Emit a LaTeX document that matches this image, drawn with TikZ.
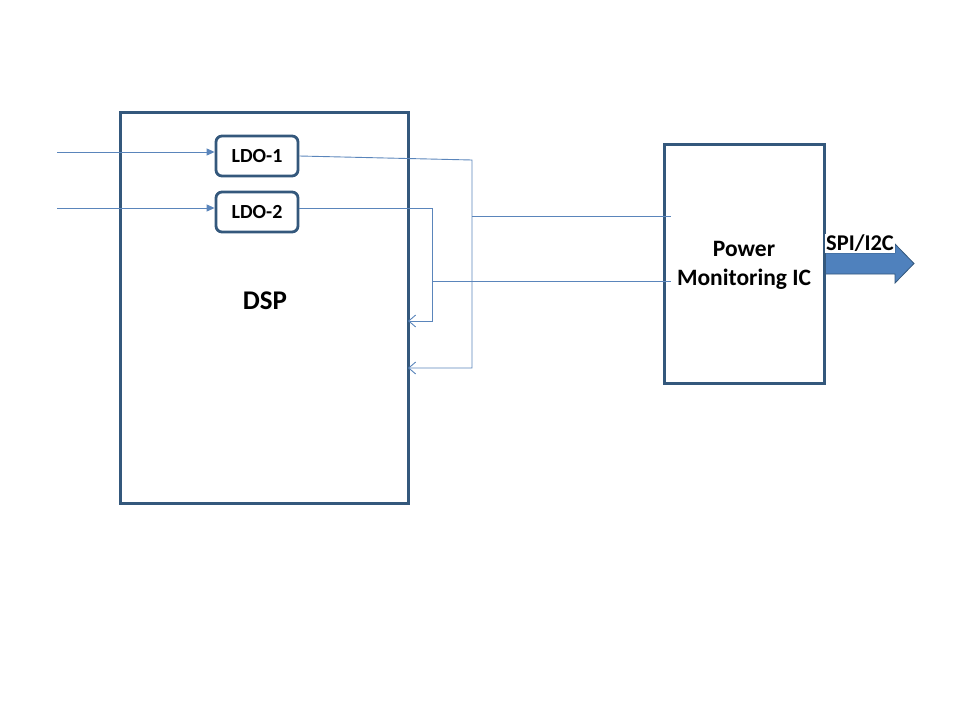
\documentclass[tikz,border=0pt]{standalone}
\usepackage{fontspec}
\setmainfont{Carlito}
\usetikzlibrary{arrows.meta}
\definecolor{boxc}{HTML}{34587C}
\definecolor{linec}{HTML}{5A85BB}
\definecolor{arrf}{HTML}{4F81BD}
\tikzset{
  bigbox/.style={draw=boxc, line width=3pt},
  ldobox/.style={draw=boxc, line width=2.8pt, rounded corners=6pt, font=\bfseries\fontsize{20}{24}\selectfont},
  wire/.style={draw=linec, line width=0.9pt},
  wirearrow/.style={wire, -{Straight Barb[length=7pt,width=12pt,line width=0.9pt]}},
  intip/.style={wire, -{Triangle[length=8pt,width=7pt]}},
  lbl/.style={font=\bfseries\fontsize{23}{28}\selectfont, align=center, inner sep=0pt},
}
\begin{document}
\begin{tikzpicture}[x=1pt,y=-1pt]
\useasboundingbox (0,0) rectangle (960,720);
% boxes
\draw[bigbox] (120,112) rectangle (408,503);
\node[lbl, font=\bfseries\fontsize{27}{30}\selectfont] (dsp) at (265,301) {DSP};
\coordinate (dspE) at (408,300);
\node[ldobox, minimum width=82pt, minimum height=40pt, inner sep=0pt] (ldo1) at (257,156) {LDO-1};
\node[ldobox, minimum width=82pt, minimum height=40pt, inner sep=0pt] (ldo2) at (257,212) {LDO-2};
\node[bigbox, minimum width=160pt, minimum height=239pt, inner sep=0pt] (ic) at (744,263.5) {};
\node[lbl, font=\bfseries\fontsize{23.5}{29}\selectfont] (ictext) at (744,265) {Power\\Monitoring IC};
% inputs
\coordinate (in1) at (57,152);
\coordinate (in2) at (57,208);
\draw[intip] (in1) -- (in1 -| ldo1.west);
\draw[intip] (in2) -- (in2 -| ldo2.west);
% LDO-1 feedback
\coordinate (b1) at (472,160);
\coordinate (b1d) at (472,368);
\draw[wirearrow] (ldo1.east) -- (b1) -- (b1d) -- (b1d -| dspE);
\coordinate (b2) at (432,208);
\coordinate (b2d) at (432,321);
\draw[wirearrow] (ldo2.east |- b2) -- (b2) -- (b2d) -- (b2d -| dspE);
% to IC
\coordinate (t1) at (472,216);
\coordinate (t2) at (432,281);
\draw[wire] (t1) -- ([xshift=8pt]t1 -| ic.west);
\draw[wire] (t2) -- ([xshift=8pt]t2 -| ic.west);
% output arrow
\draw[draw=boxc, fill=arrf, line width=0.8pt] (ic.east |- 0,253) -- (895,253) -- (895,244) -- (914,263.5) -- (895,283) -- (895,274) -- (ic.east |- 0,274) -- cycle;
\node[lbl, font=\bfseries\fontsize{22.5}{26}\selectfont, fill=white, inner sep=1pt, anchor=south west] (spi) at (825,253) {SPI/I2C};
\end{tikzpicture}
\end{document}
